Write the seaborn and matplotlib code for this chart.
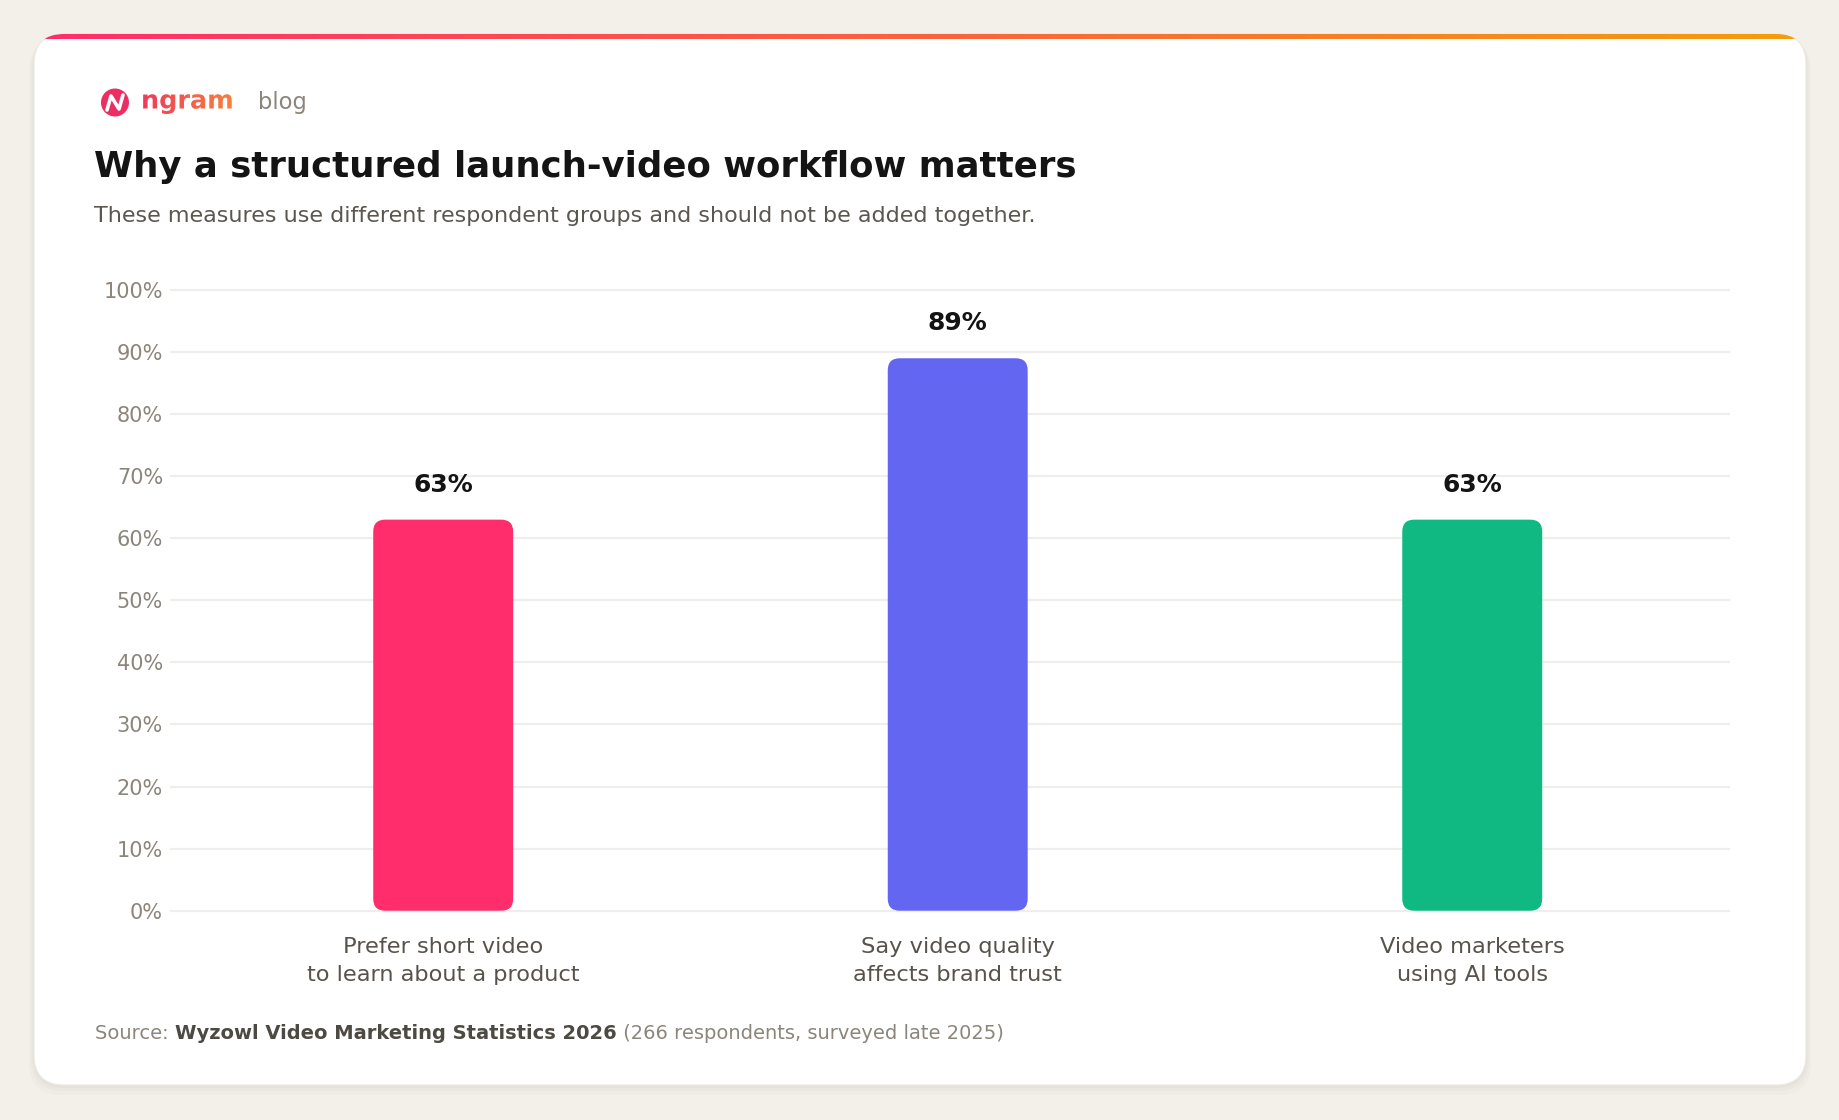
import numpy as np
import matplotlib
matplotlib.use('Agg')
import matplotlib.pyplot as plt
from matplotlib.patches import FancyBboxPatch, Circle, PathPatch
from matplotlib.textpath import TextPath
from matplotlib.font_manager import FontProperties
from matplotlib.transforms import Affine2D
import seaborn as sns

# data
categories = ['Prefer short video\nto learn about a product',
              'Say video quality\naffects brand trust',
              'Video marketers\nusing AI tools']
values = [63, 89, 63]
bar_colors = ['#FF2D6B', '#6366F1', '#10B981']
y_ticks = [0, 10, 20, 30, 40, 50, 60, 70, 80, 90, 100]

title = 'Why a structured launch-video workflow matters'
subtitle = 'These measures use different respondent groups and should not be added together.'
source_parts = ['Source: ', 'Wyzowl Video Marketing Statistics 2026', ' (266 respondents, surveyed late 2025)']

sns.set_theme(style='white')
FONT = 'DejaVu Sans'
plt.rcParams['font.family'] = [FONT]

W, H = 1840, 1120
fig = plt.figure(figsize=(W / 100, H / 100), dpi=100, facecolor='#F3F0EA')

# background layer in pixel coords (y down)
bg = fig.add_axes([0, 0, 1, 1], zorder=0)
bg.axis('off')

# card shadow + card
for off, a in [(10, 0.025), (6, 0.03), (3, 0.04)]:
    bg.add_patch(FancyBboxPatch((34 - off / 2, 34 + off / 2), 1772 + off, 1051 + off / 2,
                                boxstyle='round,pad=0,rounding_size=32', fc='#6B5E4A', ec='none', alpha=a))
card = FancyBboxPatch((34, 34), 1772, 1051, boxstyle='round,pad=0,rounding_size=30',
                      fc='white', ec='#ECE8E1', lw=0.8)
bg.add_patch(card)

# top gradient strip
grad = np.linspace(0, 1, 256).reshape(1, -1)
cmap_top = matplotlib.colors.LinearSegmentedColormap.from_list('top', ['#FF2D6B', '#F9633F', '#F59E0B'])
im = bg.imshow(grad, extent=[34, 1806, 39.5, 33], cmap=cmap_top, aspect='auto', zorder=2)
im.set_clip_path(card)

# logo icon
bg.add_patch(Circle((115, 102.5), 14, fc='#EC2F62', ec='none', zorder=3))
bg.plot([107, 111, 119, 123], [110, 96, 109, 95], color='white', lw=2.6,
        solid_capstyle='round', solid_joinstyle='round', zorder=4)

# gradient "ngram" word mark
tp = TextPath((0, 0), 'ngram', size=25.5, prop=FontProperties(family=FONT, weight='bold'))
tr = Affine2D().scale(1, -1).translate(141, 108.5) + bg.transData
pp = PathPatch(tp, transform=tr, fc='none', ec='none')
bg.add_patch(pp)
cmap_logo = matplotlib.colors.LinearSegmentedColormap.from_list('logo', ['#EE3A5C', '#F7843A'])
im2 = bg.imshow(grad, extent=[141, 238, 116, 86], cmap=cmap_logo, aspect='auto', zorder=3)
im2.set_clip_path(pp)
bg.set_xlim(0, W)
bg.set_ylim(H, 0)
bg.text(258, 108.5, 'blog', fontsize=16.3, color='#8C857B', va='baseline', ha='left')

# title and subtitle
bg.text(94, 176.5, title, fontsize=25.6, fontweight='bold', color='#141414', va='baseline')
bg.text(94, 221.5, subtitle, fontsize=16, color='#5B5750', va='baseline')

# footer with mixed weights
fig.canvas.draw()
renderer = fig.canvas.get_renderer()
x = 95
styles = [('#8C857B', 'normal'), ('#4D4943', 'bold'), ('#8C857B', 'normal')]
for part, (col, wt) in zip(source_parts, styles):
    t = bg.text(x, 1039, part, fontsize=14, color=col, fontweight=wt, va='baseline', ha='left')
    bb = t.get_window_extent(renderer)
    x += bb.width

# main chart axes
left, right, top, bottom = 170, 1730, 287, 914
ax = fig.add_axes([left / W, (H - bottom) / H, (right - left) / W, (bottom - top) / H], zorder=2)
ax.patch.set_alpha(0)

sns.barplot(x=categories, y=values, hue=categories, palette=bar_colors, width=0.272,
            saturation=1, legend=False, ax=ax, zorder=3)

ax.set_xlim(-0.531, 2.501)
ax.set_ylim(-0.53, 100.48)
ax.set_yticks(y_ticks, [f'{v}%' for v in y_ticks])
ax.set_xticks(range(len(categories)), categories)
ax.yaxis.grid(True, color='#EFEEEC', lw=1.6)
ax.set_axisbelow(True)
for s in ax.spines.values():
    s.set_visible(False)
ax.tick_params(axis='y', length=0, pad=5, labelsize=15, labelcolor='#8C857B')
ax.tick_params(axis='x', length=0, pad=16.5, labelsize=16.2, labelcolor='#57534C')
for lab in ax.get_xticklabels():
    lab.set_linespacing(1.5)
ax.set_xlabel('')
ax.set_ylabel('')

# rounded bars
px_x = 1 / 514.5
px_y = 1 / 6.2
for p in list(ax.patches):
    x0, y0, w, h = p.get_x(), p.get_y(), p.get_width(), p.get_height()
    p.set_visible(False)
    ax.add_patch(FancyBboxPatch((x0, y0), w, h, boxstyle=f'round,pad=0,rounding_size={12 * px_x}',
                                mutation_aspect=px_y / px_x, fc=p.get_facecolor(), ec='none', zorder=3))

for c in ax.containers:
    ax.bar_label(c, fmt='{:.0f}%', padding=16.5, fontsize=18, fontweight='bold', color='#141414')

fig.savefig('out.png', dpi=100, facecolor=fig.get_facecolor())
